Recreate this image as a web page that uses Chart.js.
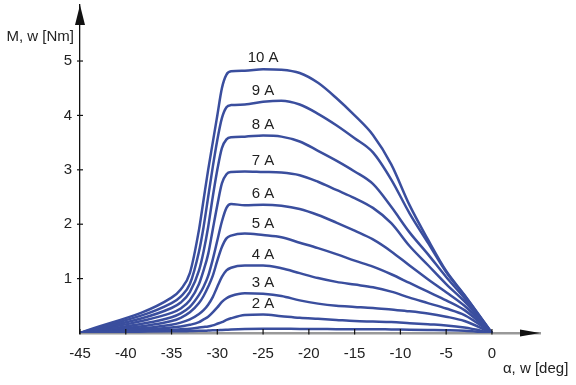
<!DOCTYPE html>
<html>
<head>
<meta charset="utf-8">
<script src="https://cdn.jsdelivr.net/npm/chart.js@4.4.0/dist/chart.umd.min.js"></script>
<style>
  body { margin: 0; background: #fff; }
  canvas { display: block; }
</style>
</head>
<body>
<canvas id="grafico" width="576" height="385"></canvas>
<script>
// Dados (ângulo em graus, momento em Nm)
const angulos = [-45, -35, -34, -33, -32, -31.5, -31, -30.5, -30, -29.5, -29, -28.5, -27, -25, -23, -21, -19, -17, -15, -13, -11, -9, -7, -5, -3, 0]

const curva1A  = [0, 0.03, 0.03, 0.035, 0.04, 0.04, 0.045, 0.05, 0.05, 0.055, 0.06, 0.065, 0.075, 0.08, 0.08, 0.075, 0.075, 0.07, 0.07, 0.07, 0.065, 0.06, 0.055, 0.05, 0.04, 0]
const curva2A  = [0, 0.06, 0.07, 0.08, 0.1, 0.11, 0.12, 0.14, 0.17, 0.2, 0.24, 0.27, 0.33, 0.34, 0.31, 0.28, 0.26, 0.24, 0.22, 0.21, 0.2, 0.18, 0.16, 0.14, 0.1, 0]
const curva3A  = [0, 0.1, 0.12, 0.15, 0.2, 0.25, 0.3, 0.38, 0.47, 0.57, 0.64, 0.68, 0.73, 0.72, 0.68, 0.6, 0.54, 0.5, 0.48, 0.46, 0.43, 0.4, 0.36, 0.3, 0.22, 0]
const curva4A  = [0, 0.15, 0.19, 0.25, 0.35, 0.42, 0.52, 0.66, 0.85, 1.03, 1.15, 1.2, 1.24, 1.24, 1.19, 1.1, 1.01, 0.94, 0.89, 0.84, 0.76, 0.65, 0.55, 0.45, 0.33, 0]
const curva5A  = [0, 0.22, 0.28, 0.38, 0.55, 0.68, 0.85, 1.05, 1.33, 1.58, 1.74, 1.79, 1.83, 1.8, 1.76, 1.66, 1.56, 1.45, 1.33, 1.22, 1.08, 0.92, 0.76, 0.6, 0.42, 0]
const curva6A  = [0, 0.29, 0.36, 0.48, 0.7, 0.85, 1.05, 1.35, 1.7, 2.05, 2.3, 2.37, 2.35, 2.36, 2.34, 2.28, 2.17, 2.03, 1.88, 1.72, 1.5, 1.24, 0.99, 0.75, 0.5, 0]
const curva7A  = [0, 0.37, 0.45, 0.6, 0.9, 1.15, 1.45, 1.9, 2.35, 2.75, 2.92, 2.96, 2.97, 2.96, 2.95, 2.9, 2.78, 2.63, 2.48, 2.3, 2.02, 1.6, 1.25, 0.9, 0.58, 0]
const curva8A  = [0, 0.46, 0.56, 0.75, 1.15, 1.5, 1.95, 2.5, 3.0, 3.4, 3.56, 3.6, 3.61, 3.63, 3.61, 3.52, 3.35, 3.17, 2.97, 2.74, 2.32, 1.85, 1.45, 1.03, 0.64, 0]
const curva9A  = [0, 0.55, 0.67, 0.9, 1.5, 1.95, 2.5, 3.05, 3.55, 3.95, 4.15, 4.19, 4.2, 4.25, 4.27, 4.2, 4.03, 3.82, 3.58, 3.32, 2.82, 2.2, 1.66, 1.12, 0.69, 0]
const curva10A = [0, 0.65, 0.8, 1.1, 1.9, 2.45, 3.0, 3.5, 4.0, 4.5, 4.75, 4.81, 4.82, 4.85, 4.84, 4.78, 4.6, 4.32, 4.0, 3.64, 3.1, 2.35, 1.72, 1.14, 0.7, 0]

const curvas = [curva1A, curva2A, curva3A, curva4A, curva5A, curva6A, curva7A, curva8A, curva9A, curva10A]
const rotulos = ['', '2 A', '3 A', '4 A', '5 A', '6 A', '7 A', '8 A', '9 A', '10 A']
const ticksX = [-45, -40, -35, -30, -25, -20, -15, -10, -5, 0]
const ticksY = [1, 2, 3, 4, 5]

const familia = '"Liberation Sans", Arial, sans-serif'
const fonte = '15px ' + familia
const corLinha = '#3a4e9e'

// Plugin: marcas dos eixos, setas, títulos e rótulos das curvas
const desenhoExtra = {
    id: 'desenhoExtra',
    afterDraw(chart) {
        const ctx = chart.ctx
        const x = chart.scales.x
        const y = chart.scales.y
        const area = chart.chartArea
        const x0 = x.getPixelForValue(-45)
        const y0 = y.getPixelForValue(0)

        ctx.save()
        ctx.strokeStyle = '#111'
        ctx.lineWidth = 1.2
        ticksX.forEach(v => {
            const px = x.getPixelForValue(v)
            ctx.beginPath()
            ctx.moveTo(px, y0 - 4)
            ctx.lineTo(px, y0 + 1.5)
            ctx.stroke()
        })
        ticksY.forEach(v => {
            const py = y.getPixelForValue(v)
            ctx.beginPath()
            ctx.moveTo(x0 - 3, py)
            ctx.lineTo(x0 + 3, py)
            ctx.stroke()
        })

        // setas
        ctx.fillStyle = '#111'
        ctx.beginPath()
        ctx.moveTo(x0, area.top)
        ctx.lineTo(x0 - 5, area.top + 20)
        ctx.lineTo(x0 + 5, area.top + 20)
        ctx.closePath()
        ctx.fill()
        ctx.beginPath()
        ctx.moveTo(area.right, y0)
        ctx.lineTo(area.right - 20, y0 - 3.5)
        ctx.lineTo(area.right - 20, y0 + 3.5)
        ctx.closePath()
        ctx.fill()

        // títulos dos eixos
        ctx.font = fonte
        ctx.fillStyle = '#222'
        ctx.textBaseline = 'middle'
        ctx.textAlign = 'right'
        ctx.fillText('M, w [Nm]', x0 - 6, area.top + 32)
        ctx.textAlign = 'left'
        ctx.fillText('α, w [deg]', x.getPixelForValue(1.2), y0 + 36)

        // rótulos das curvas
        const idx = angulos.indexOf(-25)
        ctx.textAlign = 'center'
        chart.data.datasets.forEach((ds, i) => {
            if (!rotulos[i]) return
            const p = chart.getDatasetMeta(i).data[idx]
            ctx.fillText(rotulos[i], p.x, p.y - 11)
        })
        ctx.restore()
    }
}

new Chart(document.getElementById('grafico'), {
    type: 'line',
    data: {
        datasets: curvas.map((c, i) => ({
            label: rotulos[i],
            data: angulos.map((a, j) => ({ x: a, y: c[j] })),
            borderColor: corLinha,
            borderWidth: 2.5,
            pointRadius: 0,
            fill: false,
            cubicInterpolationMode: 'monotone'
        }))
    },
    plugins: [desenhoExtra],
    options: {
        responsive: false,
        animation: false,
        devicePixelRatio: 1,
        layout: { padding: { top: 5, right: 36, left: 0, bottom: 0 } },
        plugins: { legend: { display: false }, tooltip: { enabled: false } },
        scales: {
            x: {
                type: 'linear',
                min: -45,
                max: 5.25,
                afterBuildTicks: s => { s.ticks = ticksX.map(v => ({ value: v })) },
                afterFit: s => { s.height = 52 },
                grid: { display: false, drawTicks: false },
                border: { display: true, color: '#999', width: 2.5 },
                ticks: { font: { family: familia, size: 15 }, color: '#222', padding: 12, maxRotation: 0 }
            },
            y: {
                min: 0,
                max: 6.03,
                afterBuildTicks: s => { s.ticks = ticksY.map(v => ({ value: v })) },
                afterFit: s => {
                    s.width = 80
                    s.paddingTop = 0
                    s.paddingBottom = 0
                },
                grid: { display: false, drawTicks: false },
                border: { display: true, color: '#111', width: 1.3 },
                ticks: { font: { family: familia, size: 15 }, color: '#222', padding: 8 }
            }
        }
    }
})
</script>
</body>
</html>
